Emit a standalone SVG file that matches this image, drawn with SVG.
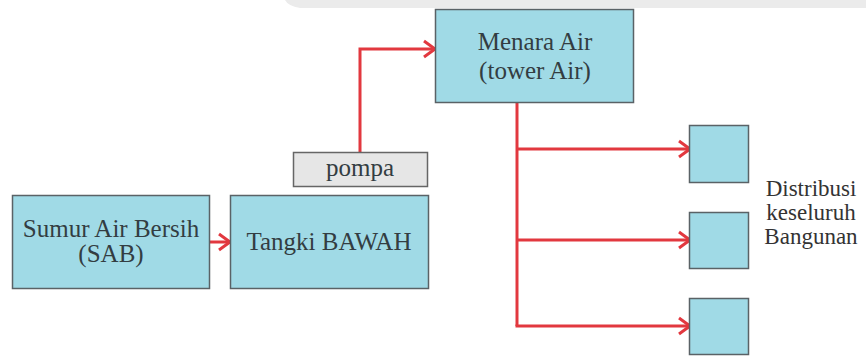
<svg xmlns="http://www.w3.org/2000/svg" width="866" height="356" viewBox="0 0 866 356">
  <defs>
    <style>
      .box { fill: #a0dae6; stroke: #5a6266; stroke-width: 1.5; }
      .grey { fill: #e6e6e6; stroke: #666; stroke-width: 1.5; }
      .lbl { font-size: 25px; fill: #333d42; text-anchor: middle; }
      .side { font-size: 23px; fill: #333; text-anchor: middle; }
      .conn { fill: none; stroke: #e2383f; stroke-width: 3; }
    </style>
    <marker id="ah" markerUnits="userSpaceOnUse" markerWidth="16" markerHeight="20" refX="13" refY="9" orient="auto" viewBox="0 0 16 18">
      <path d="M2,1 L13,9 L2,17" fill="none" stroke="#e2383f" stroke-width="3"/>
    </marker>
  </defs>
  <rect width="866" height="356" fill="#ffffff"/>
  <path d="M285,0 L866,0 L866,8 L300,8 Q288,6 285,0 Z" fill="#ebebeb"/>

  <g id="connectors">
    <line class="conn" x1="209" y1="242" x2="230" y2="242" marker-end="url(#ah)"/>
    <polyline class="conn" points="360,152 360,49 435,49" marker-end="url(#ah)"/>
    <polyline class="conn" points="517,102 517,326"/>
    <line class="conn" x1="517" y1="149" x2="690" y2="149" marker-end="url(#ah)"/>
    <line class="conn" x1="517" y1="240" x2="690" y2="240" marker-end="url(#ah)"/>
    <line class="conn" x1="515.5" y1="326" x2="690" y2="326" marker-end="url(#ah)"/>
  </g>

  <g font-family="Liberation Serif, serif">
  <g id="sumur">
    <rect class="box" x="12.5" y="195.5" width="197" height="93"/>
    <text class="lbl" x="111" y="237">Sumur Air Bersih</text>
    <text class="lbl" x="111" y="262">(SAB)</text>
  </g>
  <g id="tangki">
    <rect class="box" x="230.5" y="195.5" width="198" height="93"/>
    <text class="lbl" x="329" y="250">Tangki BAWAH</text>
  </g>
  <g id="pompa">
    <rect class="grey" x="293.5" y="152.5" width="134" height="34"/>
    <text class="lbl" x="360" y="176">pompa</text>
  </g>
  <g id="menara">
    <rect class="box" x="435.5" y="9.5" width="198" height="93"/>
    <text class="lbl" x="535" y="50">Menara Air</text>
    <text class="lbl" x="535" y="79">(tower Air)</text>
  </g>
  <g id="bangunan1">
    <rect class="box" x="689.5" y="125.5" width="59" height="57"/>
  </g>
  <g id="bangunan2">
    <rect class="box" x="689.5" y="212.5" width="59" height="56"/>
  </g>
  <g id="bangunan3">
    <rect class="box" x="689.5" y="298.5" width="59" height="56"/>
  </g>
  <g id="distribusi">
    <text class="side" x="811" y="196">Distribusi</text>
    <text class="side" x="811" y="220">keseluruh</text>
    <text class="side" x="811" y="244">Bangunan</text>
  </g>
  </g>
</svg>
